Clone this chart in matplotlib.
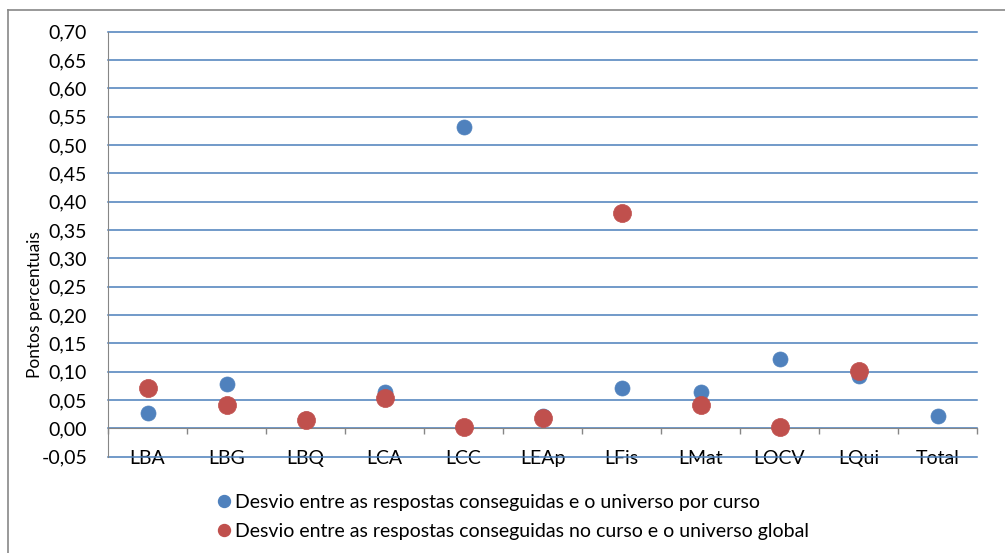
import numpy as np
import matplotlib
matplotlib.use("Agg")
import matplotlib.pyplot as plt
from matplotlib.lines import Line2D

plt.rcParams["font.family"] = ["Lato", "DejaVu Sans"]

cursos = ["LBA", "LBG", "LBQ", "LCA", "LCC", "LEAp", "LFis", "LMat", "LOCV", "LQui", "Total"]
desvio_curso = [0.028, 0.078, 0.017, 0.064, 0.532, 0.022, 0.072, 0.064, 0.122, 0.092, 0.022]
desvio_global = [0.072, 0.042, 0.014, 0.053, 0.003, 0.019, 0.380, 0.041, 0.003, 0.102, np.nan]
y_ticks = np.round(np.arange(-0.05, 0.7001, 0.05), 2)

label_curso = "Desvio entre as respostas conseguidas e o universo por curso"
label_global = "Desvio entre as respostas conseguidas no curso e o universo global"

azul = "#4F81BD"
vermelho = "#C0504D"
cinza = "#868686"
grelha = "#4A7EBB"
fs = 14

W, H = 1005, 553
fig = plt.figure(figsize=(W / 100, H / 100), dpi=100)
ax = fig.add_axes([108 / W, 1 - 456.7 / H, (977 - 108) / W, (456.7 - 31.7) / H])

x = np.arange(len(cursos))
ax.scatter(x, desvio_curso, s=117, color=azul, edgecolor=azul, linewidth=0.5, zorder=3)
ax.scatter(x, desvio_global, s=169, color=vermelho, edgecolor=vermelho, linewidth=0.5, zorder=4)

ax.set_xlim(-0.5, len(cursos) - 0.5)
ax.set_ylim(-0.05, 0.70)

ax.set_yticks(y_ticks)
ax.set_yticklabels([f"{v:.2f}".replace(".", ",") for v in y_ticks])
ax.tick_params(axis="y", length=0, pad=15, labelsize=fs)
ax.yaxis.grid(True, color=grelha, linewidth=1.1)
for gl in ax.get_ygridlines():
    gl.set_clip_on(False)
ax.set_axisbelow(True)

ax.set_xticks(x)
ax.set_xticklabels(cursos)
ax.set_xticks(np.arange(-0.5, len(cursos)), minor=True)
ax.tick_params(axis="x", which="major", length=0, pad=15.5, labelsize=fs)
ax.tick_params(axis="x", which="minor", length=4.5, color=cinza, width=1)

for s in ["top", "right"]:
    ax.spines[s].set_visible(False)
ax.spines["bottom"].set_position(("data", 0))
ax.spines["bottom"].set_color(cinza)
ax.spines["left"].set_color(cinza)
ax.spines["bottom"].set_zorder(2.5)

fig.text(35 / W, 1 - 305 / H, "Pontos percentuais", rotation=90,
         ha="center", va="center", fontsize=12.5)

handles = [
    Line2D([], [], marker="o", linestyle="none", markersize=8.6, color=azul),
    Line2D([], [], marker="o", linestyle="none", markersize=8.6, color=vermelho),
]
fig.legend(handles, [label_curso, label_global], loc="upper left",
           bbox_to_anchor=(218 / W, 1 - 494 / H), frameon=False, fontsize=fs,
           borderpad=0, borderaxespad=0, handlelength=0.62, handletextpad=0.26,
           labelspacing=0.63)

# moldura exterior do gráfico
fig.add_artist(Line2D([8 / W, 1], [1 - 9.5 / H, 1 - 9.5 / H], transform=fig.transFigure,
                      color="#888888", linewidth=1.2))
fig.add_artist(Line2D([8 / W, 8 / W], [0, 1 - 9.5 / H], transform=fig.transFigure,
                      color="#888888", linewidth=1.2))

fig.savefig("out.png", dpi=100)
